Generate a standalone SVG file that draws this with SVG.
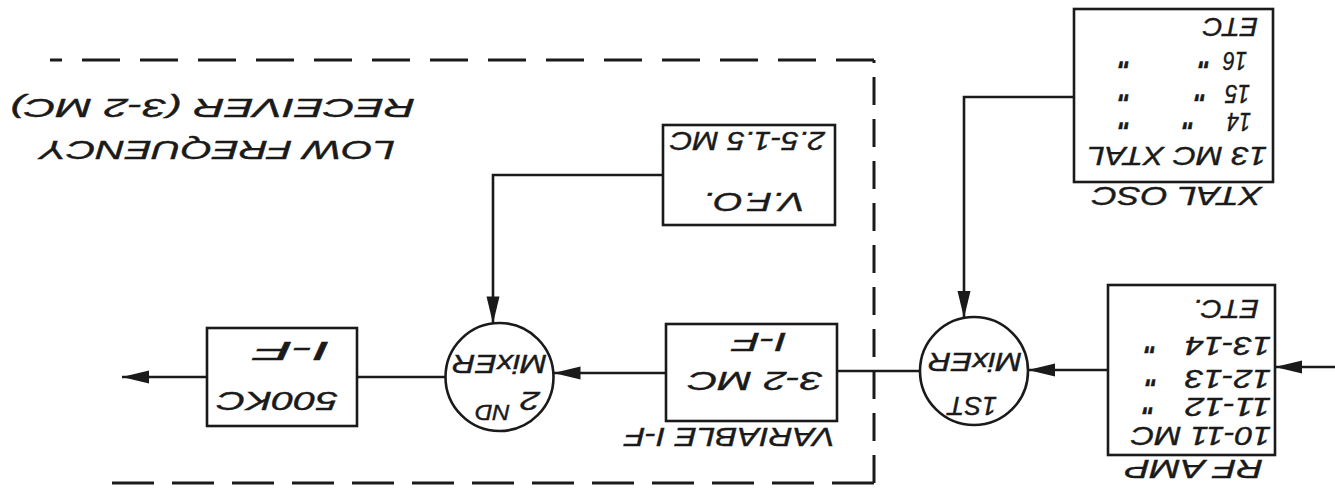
<svg xmlns="http://www.w3.org/2000/svg" width="1335" height="491" viewBox="0 0 1335 491">
<style>
.box{fill:none;stroke:#1a1a1a;stroke-width:2.6}
.ln{fill:none;stroke:#1a1a1a;stroke-width:2.6}
.dash{fill:none;stroke:#1a1a1a;stroke-width:3}
.t{font-family:"Liberation Sans",Arial,sans-serif;font-style:italic;font-size:26px;fill:#1a1a1a;stroke:#1a1a1a;stroke-width:0.4}
.s{font-size:22px}
.ti{font-size:25px}
.dt{font-weight:bold}
</style>
<defs>
<marker id="ah" markerUnits="userSpaceOnUse" markerWidth="28" markerHeight="14" refX="27" refY="7" orient="auto">
<path d="M0,0.5 L27,7 L0,13.5 Z" fill="#1a1a1a"/>
</marker>
</defs>
<rect width="1335" height="491" fill="#ffffff"/>
<g transform="rotate(180 667.5 245.5)">
<g id="boundary">
<path class="dash" d="M461,8 L1232,8" stroke-dasharray="42 18"/>
<path class="dash" d="M461,8 L461,431" stroke-dasharray="28 14"/>
<path class="dash" d="M461,431 L1285,431" stroke-dasharray="38 20"/>
</g>
<g id="connectors">
<path class="ln" d="M0,124 L60,124" marker-end="url(#ah)"/>
<path class="ln" d="M227,121 L307,121" marker-end="url(#ah)"/>
<path class="ln" d="M261,394 L371,394 L371,173" marker-end="url(#ah)"/>
<path class="ln" d="M415,120 L498,120"/>
<path class="ln" d="M669,118 L781.5,118" marker-end="url(#ah)"/>
<path class="ln" d="M672,316 L842,316 L842,167.6" marker-end="url(#ah)"/>
<path class="ln" d="M889.5,114 L978,114"/>
<path class="ln" d="M1128,114 L1213,114" marker-end="url(#ah)"/>
</g>
<g id="rf-amp">
<rect class="box" x="60" y="36" width="167" height="170"/>
<text class="t" x="72" y="31" textLength="138" lengthAdjust="spacingAndGlyphs">RF AMP</text>
<text class="t" x="64" y="64" textLength="140" lengthAdjust="spacingAndGlyphs">10-11 MC</text>
<text class="t" x="64" y="93" textLength="86" lengthAdjust="spacingAndGlyphs">11-12</text>
<text class="t dt" x="180" y="95">&quot;</text>
<text class="t" x="64" y="121" textLength="86" lengthAdjust="spacingAndGlyphs">12-13</text>
<text class="t dt" x="177" y="123">&quot;</text>
<text class="t" x="64" y="154" textLength="86" lengthAdjust="spacingAndGlyphs">13-14</text>
<text class="t dt" x="178" y="156">&quot;</text>
<text class="t" x="76" y="191" textLength="66" lengthAdjust="spacingAndGlyphs">ETC.</text>
</g>
<g id="xtal-osc">
<rect class="box" x="62" y="309" width="199" height="173"/>
<text class="t" x="73" y="304" textLength="170" lengthAdjust="spacingAndGlyphs">XTAL OSC</text>
<text class="t" x="68" y="344" textLength="180" lengthAdjust="spacingAndGlyphs">13 MC XTAL</text>
<text class="t" x="84" y="378" textLength="24" lengthAdjust="spacingAndGlyphs">14</text>
<text class="t dt" x="140" y="380">&quot;</text>
<text class="t dt" x="204" y="380">&quot;</text>
<text class="t" x="85" y="406" textLength="25" lengthAdjust="spacingAndGlyphs">15</text>
<text class="t dt" x="128" y="408">&quot;</text>
<text class="t dt" x="204" y="408">&quot;</text>
<text class="t" x="88" y="439" textLength="24" lengthAdjust="spacingAndGlyphs">16</text>
<text class="t dt" x="124" y="441">&quot;</text>
<text class="t dt" x="204" y="441">&quot;</text>
<text class="t" x="77" y="473" textLength="55" lengthAdjust="spacingAndGlyphs">ETC</text>
</g>
<g id="mixer-1">
<circle class="box" cx="361" cy="120" r="54"/>
<text class="t" x="338" y="94" textLength="49" lengthAdjust="spacingAndGlyphs">1ST</text>
<text class="t" x="313" y="138" textLength="94" lengthAdjust="spacingAndGlyphs">MixER</text>
</g>
<g id="variable-if">
<rect class="box" x="498" y="70" width="171" height="97"/>
<text class="t" x="500" y="63" textLength="210" lengthAdjust="spacingAndGlyphs">VARIABLE I-F</text>
<text class="t" x="512" y="119" textLength="135" lengthAdjust="spacingAndGlyphs">3-2 MC</text>
<text class="t" x="548" y="158" textLength="54" lengthAdjust="spacingAndGlyphs">I-F</text>
</g>
<g id="vfo">
<rect class="box" x="500" y="266" width="172" height="100"/>
<text class="t" x="530" y="298" textLength="102" lengthAdjust="spacingAndGlyphs">V.F.O.</text>
<text class="t" x="510" y="359" textLength="155" lengthAdjust="spacingAndGlyphs">2.5-1.5 MC</text>
</g>
<g id="mixer-2">
<circle class="box" cx="835.5" cy="114" r="54"/>
<text class="t" x="795" y="99" font-size="28" textLength="20" lengthAdjust="spacingAndGlyphs">2</text>
<text class="t s" x="825" y="86" textLength="35" lengthAdjust="spacingAndGlyphs">ND</text>
<text class="t" x="788" y="136" textLength="95" lengthAdjust="spacingAndGlyphs">MixER</text>
</g>
<g id="if-500kc">
<rect class="box" x="978" y="65" width="150" height="98"/>
<text class="t" x="997" y="99" textLength="121" lengthAdjust="spacingAndGlyphs">500KC</text>
<text class="t" x="1005" y="149" textLength="75" lengthAdjust="spacingAndGlyphs">I-F</text>
</g>
<g id="title">
<text class="t ti" x="940" y="350" textLength="355" lengthAdjust="spacingAndGlyphs">LOW FREQUENCY</text>
<text class="t ti" x="920" y="392" textLength="405" lengthAdjust="spacingAndGlyphs">RECEIVER (3-2 MC)</text>
</g>
</g>
</svg>
